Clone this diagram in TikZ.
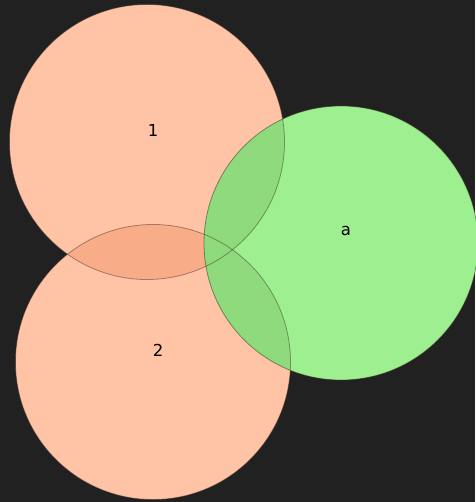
\documentclass[tikz,border=0pt]{standalone}
\usepackage{fontspec}
\usepackage{tikz}
\usetikzlibrary{positioning}
\newfontfamily\labelfont{DejaVu Sans}
\definecolor{bg}{HTML}{212121}
\definecolor{csal}{HTML}{FFC4A6}
\definecolor{cpeach}{HTML}{F9AC88}
\definecolor{cgrn}{HTML}{9DEF8F}
\definecolor{cgrnd}{HTML}{8FDA7C}
\definecolor{cedge}{HTML}{3A2A20}

\begin{document}
\begin{tikzpicture}[x=1pt,y=-1pt,
  rim/.style={draw=cedge,draw opacity=0.45,line width=0.8pt},
  tag/.style={font=\labelfont\fontsize{16.5}{18}\selectfont,text=black}]
  \fill[bg] (0,0) rectangle (475,502);
  \useasboundingbox (0,0) rectangle (475,502);
  \coordinate (c1) at (147,142);
  \coordinate (c2) at (153,362);
  \coordinate (ca) at (341,243);
  % salmon sets and their overlap
  \foreach \c in {c1,c2} \fill[csal] (\c) circle (137.5);
  \begin{scope}
    \clip (c1) circle (137.5);
    \fill[cpeach] (c2) circle (137.5);
  \end{scope}
  % green set
  \fill[cgrn] (ca) circle (137);
  \begin{scope}
    \clip (ca) circle (137);
    \foreach \c in {c1,c2} \fill[cgrnd] (\c) circle (137.5);
  \end{scope}
  \foreach \c in {c1,c2} \draw[rim] (\c) circle (137.5);
  \draw[rim,draw opacity=0.5] (ca) circle (137);
  \node[tag] (t1) at (153,130) {1};
  \node[tag] (t2) at (158,350) {2};
  \node[tag] (ta) at (346,231) {a};
\end{tikzpicture}
\end{document}
